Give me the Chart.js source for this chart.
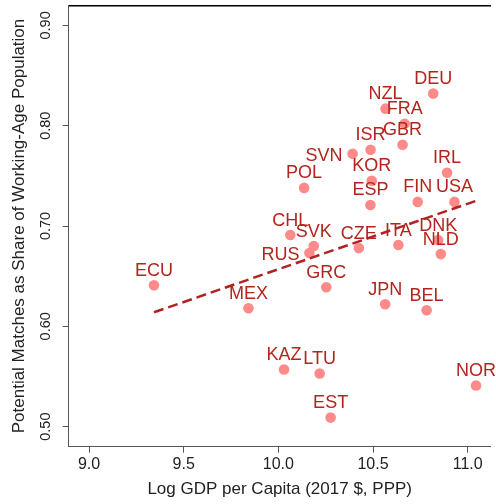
<!DOCTYPE html>
<html lang="en">
<head>
    <meta charset="UTF-8">
    <title>Potential Matches vs GDP</title>
    <script src="https://cdn.jsdelivr.net/npm/chart.js"></script>
    <style>
        html, body {
            margin: 0;
            padding: 0;
            background: #fff;
        }
        #wrap {
            width: 496px;
            height: 504px;
        }
    </style>
</head>
<body>
<div id="wrap">
    <canvas id="scatter" width="496" height="504"></canvas>
</div>

<script>
    // country codes, log GDP per capita, share of working-age population
    const countries = ['DEU', 'NZL', 'FRA', 'GBR', 'ISR', 'SVN', 'KOR', 'POL', 'IRL', 'ESP',
        'FIN', 'USA', 'CHL', 'SVK', 'CZE', 'ITA', 'DNK', 'NLD', 'RUS', 'ECU',
        'MEX', 'GRC', 'JPN', 'BEL', 'KAZ', 'LTU', 'NOR', 'EST'];
    const logGdp = [10.818, 10.566, 10.667, 10.656, 10.487, 10.392, 10.493, 10.136, 10.891, 10.486,
        10.736, 10.930, 10.063, 10.187, 10.425, 10.634, 10.844, 10.858, 10.164, 9.343,
        9.842, 10.253, 10.564, 10.783, 10.030, 10.218, 11.044, 10.276];
    const matchShare = [0.832, 0.817, 0.802, 0.781, 0.776, 0.772, 0.745, 0.738, 0.753, 0.721,
        0.724, 0.724, 0.691, 0.680, 0.678, 0.681, 0.686, 0.672, 0.673, 0.641,
        0.618, 0.639, 0.622, 0.616, 0.557, 0.553, 0.541, 0.509];

    // linear fit line end points
    const fitX = [9.343, 11.043];
    const fitY = [0.614, 0.725];

    // tick values
    const xTicks = [9.0, 9.5, 10.0, 10.5, 11.0];
    const yTicks = [0.50, 0.60, 0.70, 0.80, 0.90];

    // these two get their label on the left instead of on top
    const leftLabels = ['SVN', 'RUS'];

    const labelColor = '#b3241c';
    const axisColor = '#555';

    Chart.defaults.font.family = '"Liberation Sans", Arial, sans-serif';
    Chart.defaults.color = '#222';

    // country codes next to each point
    const pointLabels = {
        id: 'pointLabels',
        afterDatasetDraw(chart, args) {
            if (args.index !== 0) return;
            const ctx = chart.ctx;
            ctx.save();
            ctx.font = '18px "Liberation Sans", Arial, sans-serif';
            ctx.fillStyle = labelColor;
            ctx.textBaseline = 'alphabetic';
            args.meta.data.forEach((pt, i) => {
                if (leftLabels.includes(countries[i])) {
                    ctx.textAlign = 'right';
                    ctx.fillText(countries[i], pt.x - 10, pt.y + 7);
                } else {
                    ctx.textAlign = 'center';
                    ctx.fillText(countries[i], pt.x, pt.y - 9.5);
                }
            });
            ctx.restore();
        }
    };

    const ctx = document.getElementById('scatter').getContext('2d');
    const chart = new Chart(ctx, {
        type: 'scatter',
        data: {
            datasets: [
                {
                    label: 'Countries',
                    data: logGdp.map((x, i) => ({ x: x, y: matchShare[i] })),
                    backgroundColor: '#ff8a8a',
                    borderWidth: 0,
                    pointRadius: 5.3,
                    order: 2
                },
                {
                    type: 'line',
                    label: 'Fit',
                    data: fitX.map((x, i) => ({ x: x, y: fitY[i] })),
                    borderColor: '#b22222',
                    borderWidth: 2.5,
                    borderDash: [10, 5],
                    pointRadius: 0,
                    fill: false,
                    order: 1
                }
            ]
        },
        options: {
            responsive: false,
            animation: false,
            layout: { padding: { top: 4, right: 0, bottom: 0, left: 0 } },
            plugins: {
                legend: { display: false },
                tooltip: { enabled: false }
            },
            scales: {
                x: {
                    type: 'linear',
                    position: 'bottom',
                    min: 8.8925,
                    max: 11.1215,
                    afterBuildTicks: s => { s.ticks = xTicks.map(v => ({ value: v })); },
                    afterFit: s => { s.height = 57.3; s.paddingLeft = 0; s.paddingRight = 0; },
                    ticks: {
                        font: { size: 16 },
                        color: '#222',
                        padding: 2,
                        maxRotation: 0,
                        callback: v => v.toFixed(1)
                    },
                    grid: { drawOnChartArea: false, tickLength: 6, color: axisColor },
                    border: { color: axisColor, width: 1 },
                    title: {
                        display: true,
                        text: 'Log GDP per Capita (2017 $, PPP)',
                        font: { size: 17 },
                        color: '#222',
                        padding: { top: 0, bottom: 4.4 }
                    }
                },
                xTop: {
                    type: 'linear',
                    position: 'top',
                    min: 8.8925,
                    max: 11.1215,
                    afterFit: s => { s.height = 0; s.paddingLeft = 0; s.paddingRight = 0; },
                    ticks: { display: false },
                    grid: { drawOnChartArea: false, drawTicks: false },
                    border: { color: '#000', width: 1.5 }
                },
                y: {
                    type: 'linear',
                    position: 'left',
                    min: 0.48,
                    max: 0.92,
                    afterBuildTicks: s => { s.ticks = yTicks.map(v => ({ value: v })); },
                    afterFit: s => { s.width = 68.7; s.paddingTop = 0; s.paddingBottom = 0; },
                    ticks: {
                        font: { size: 14.5 },
                        color: '#222',
                        padding: 2.5,
                        minRotation: 90,
                        maxRotation: 90,
                        crossAlign: 'center',
                        callback: v => v.toFixed(2)
                    },
                    grid: { drawOnChartArea: false, tickLength: 6, color: axisColor },
                    border: { color: axisColor, width: 1 },
                    title: {
                        display: true,
                        text: 'Potential Matches as Share of Working-Age Population',
                        font: { size: 17 },
                        color: '#222',
                        padding: { top: 9.4, bottom: 0 }
                    }
                }
            }
        },
        plugins: [pointLabels]
    });
</script>
</body>
</html>
